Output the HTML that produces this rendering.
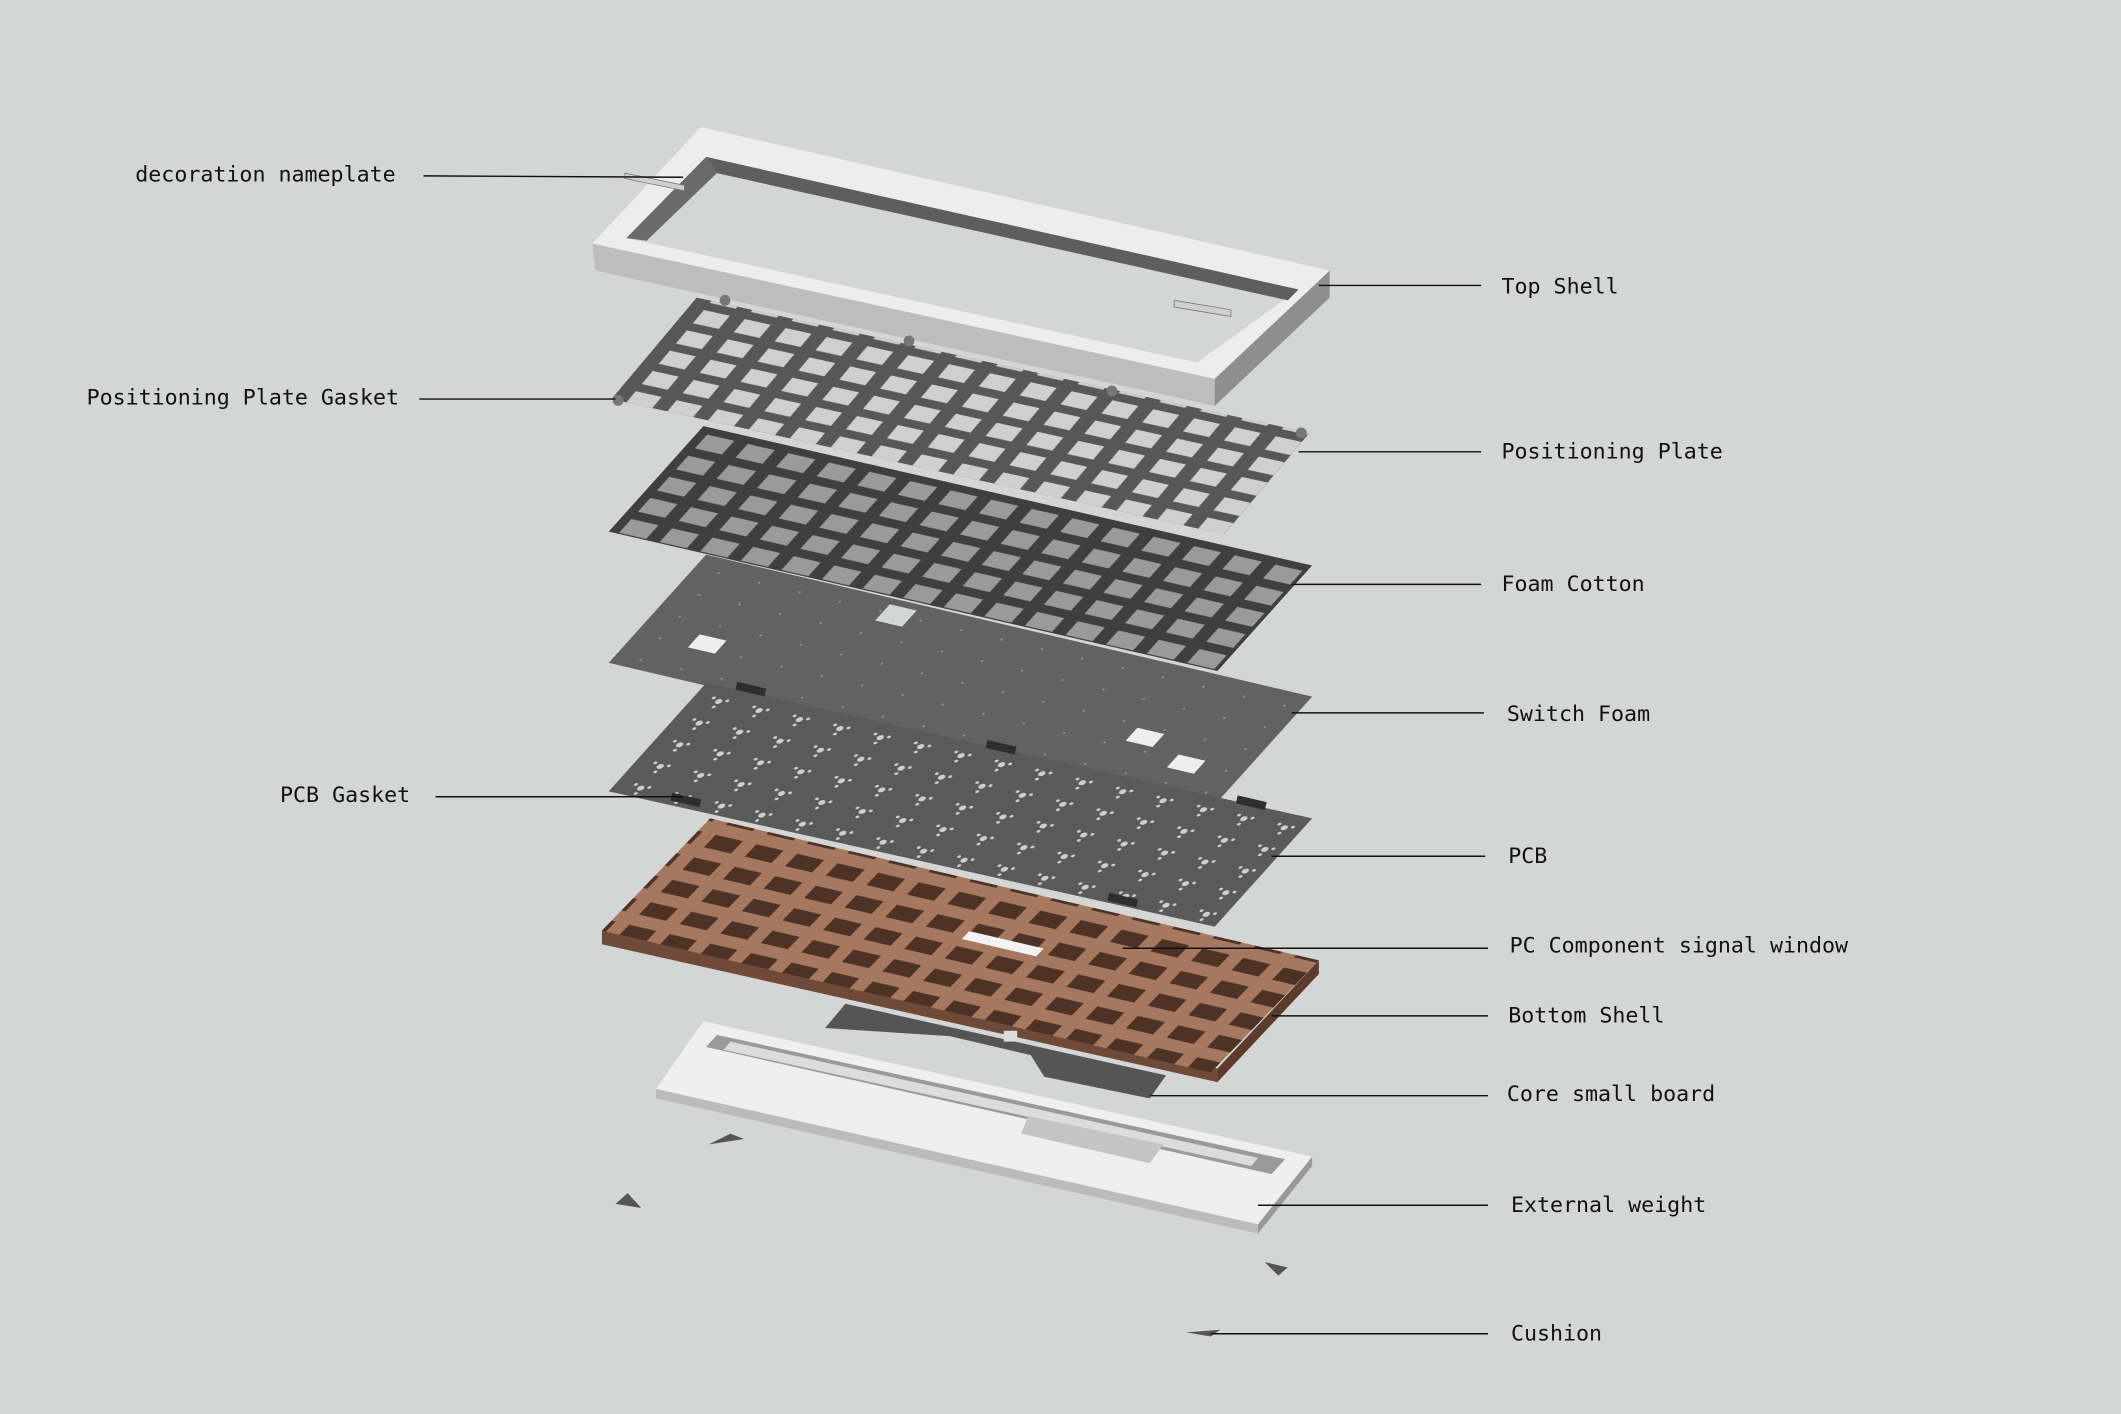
<!DOCTYPE html>
<html><head><meta charset="utf-8"><style>
html,body{margin:0;padding:0;background:#d4d6d5;}
svg{display:block}
text{font-family:"DejaVu Sans Mono","Liberation Mono",monospace;font-size:16px;fill:#111;}
</style></head><body>
<svg width="2121" height="1414" viewBox="0 0 1568 1045.3" xmlns="http://www.w3.org/2000/svg">
<defs>
<pattern id="keysA" width="30" height="20" patternUnits="userSpaceOnUse" x="8" y="6">
<rect x="3" y="3" width="19" height="13" fill="#cfcfcf"/>
</pattern>
<pattern id="keysB" width="30" height="20" patternUnits="userSpaceOnUse" x="4" y="3">
<rect x="3" y="3" width="20" height="13" fill="#9a9a9a"/>
</pattern>
<pattern id="keysC" width="30" height="20" patternUnits="userSpaceOnUse" x="10" y="8">
<rect x="3" y="3" width="20" height="11" fill="#4e3226"/>
</pattern>
<pattern id="dots" width="30" height="20" patternUnits="userSpaceOnUse" x="6" y="4">
<circle cx="12" cy="8" r="2.2" fill="#cfcfcf"/><circle cx="7" cy="6" r="1.2" fill="#cfcfcf"/><circle cx="17" cy="6" r="1.2" fill="#cfcfcf"/><circle cx="12" cy="13" r="1.2" fill="#cfcfcf"/>
</pattern>
<pattern id="fdots" width="30" height="20" patternUnits="userSpaceOnUse" x="6" y="4">
<circle cx="12" cy="8" r="0.8" fill="#999"/>
</pattern>
</defs>

<!-- Top shell -->
<polygon points="438,180 898,280 898,300 440,200" fill="#bdbdbd"/>
<polygon points="898,280 983,200 983,220 898,300" fill="#8e8e8e"/>
<polygon points="518,94 983,200 898,280 438,180" fill="#ededed"/>
<polygon points="522,116 960,214 885,268 463,176" fill="#d4d6d5"/>
<polygon points="522,116 960,214 952,222 530,128" fill="#5e5e5e"/>
<polygon points="522,116 530,128 478,178 463,176" fill="#6a6a6a"/>
<polygon points="868,222 910,229 910,234 868,227" fill="#cfcfcf" stroke="#777" stroke-width="0.6"/>
<polygon points="462,128 506,137 506,141 462,132" fill="#cfcfcf" stroke="#777" stroke-width="0.6"/>

<!-- Positioning plate -->
<g transform="matrix(1.0067,0.2222,-0.63,0.75,515,220)">
<rect x="0" y="0" width="450" height="100" fill="#575757"/>
<rect x="0" y="0" width="450" height="100" fill="url(#keysA)"/>
</g>
<circle cx="457" cy="296" r="4" fill="#777"/><circle cx="962" cy="320" r="4" fill="#777"/><circle cx="536" cy="222" r="4" fill="#777"/><circle cx="822" cy="289" r="4" fill="#777"/><circle cx="672" cy="252" r="4" fill="#777"/>

<!-- Foam cotton -->
<g transform="matrix(1,0.2289,-0.7,0.78,520,315)">
<rect x="0" y="0" width="450" height="100" fill="#3f3f3f"/>
<rect x="0" y="0" width="450" height="100" fill="url(#keysB)"/>
</g>

<!-- Switch foam -->
<g transform="matrix(0.9956,0.2333,-0.72,0.8,522,410)">
<rect x="0" y="0" width="450" height="100" fill="#626262"/>
<rect x="0" y="0" width="450" height="100" fill="url(#fdots)"/>
<rect x="40" y="62" width="20" height="12" fill="#eee"/>
<rect x="360" y="55" width="20" height="12" fill="#eee"/>
<rect x="400" y="68" width="20" height="12" fill="#eee"/>
<rect x="140" y="5" width="20" height="15" fill="#d4d6d5"/>
</g>

<!-- PCB -->
<g transform="matrix(0.9956,0.2222,-0.72,0.8,522,505)">
<rect x="0" y="0" width="450" height="100" fill="#5a5a5a"/>
<rect x="0" y="0" width="450" height="100" fill="url(#dots)"/>
</g>
<rect x="545" y="504" width="22" height="6" fill="#2e2e2e" transform="rotate(13 545 504)"/>
<rect x="730" y="547" width="22" height="6" fill="#2e2e2e" transform="rotate(13 730 547)"/>
<rect x="915" y="588" width="22" height="6" fill="#2e2e2e" transform="rotate(13 915 588)"/>
<rect x="497" y="586" width="22" height="6" fill="#2e2e2e" transform="rotate(13 497 586)"/>
<rect x="820" y="660" width="22" height="6" fill="#2e2e2e" transform="rotate(13 820 660)"/>

<!-- Bottom shell (copper) -->
<polygon points="445,688 900,790 900,800 445,698" fill="#6f4a38"/>
<polygon points="900,790 975,710 975,720 900,800" fill="#5c3b2c"/>
<g transform="matrix(1,0.2333,-0.8,0.83,525,605)">
<rect x="0" y="0" width="450" height="100" fill="#a6785f"/>
<rect x="0" y="0" width="450" height="100" fill="url(#keysC)"/>
<rect x="222" y="38" width="55" height="7" fill="#f2f2f2"/>
</g>

<!-- Core small board -->
<polygon points="625,742 862,795 850,812 772,796 762,780 702,766 610,760" fill="#555"/>
<rect x="742" y="762" width="10" height="8" fill="#ddd"/>

<!-- External weight -->
<polygon points="485,805 930,905 930,912 485,812" fill="#bbb"/>
<polygon points="930,905 970,855 970,862 930,912" fill="#999"/>
<polygon points="520,755 970,855 930,905 485,805" fill="#efefef"/>
<polygon points="530,765 950,857 940,868 522,774" fill="#9a9a9a"/>
<polygon points="540,770 930,856 925,862 535,776" fill="#dcdcdc"/>
<polygon points="760,825 860,846 850,860 755,838" fill="#c4c4c4"/>

<!-- Cushions -->
<polygon points="455,890 464,882 474,893" fill="#555"/>
<polygon points="524,846 540,838 550,842" fill="#555"/>
<polygon points="935,933 952,937 945,943" fill="#555"/>
<polygon points="877,985 902,983 895,988" fill="#555"/>

<!-- Leader lines -->
<g stroke="#111" stroke-width="1.1">
<line x1="313" y1="130" x2="505" y2="131"/>
<line x1="975" y1="211" x2="1095" y2="211"/>
<line x1="310" y1="295" x2="455" y2="295"/>
<line x1="960" y1="334" x2="1095" y2="334"/>
<line x1="955" y1="432" x2="1095" y2="432"/>
<line x1="955" y1="527" x2="1097" y2="527"/>
<line x1="322" y1="589" x2="505" y2="589"/>
<line x1="940" y1="633" x2="1098" y2="633"/>
<line x1="830" y1="701" x2="1100" y2="701"/>
<line x1="940" y1="751" x2="1100" y2="751"/>
<line x1="850" y1="810" x2="1100" y2="810"/>
<line x1="930" y1="891" x2="1100" y2="891"/>
<line x1="895" y1="986" x2="1100" y2="986"/>
</g>

<!-- Labels -->
<text x="100" y="134">decoration nameplate</text>
<text x="1110" y="217">Top Shell</text>
<text x="64" y="299">Positioning Plate Gasket</text>
<text x="1110" y="339">Positioning Plate</text>
<text x="1110" y="437">Foam Cotton</text>
<text x="1114" y="533">Switch Foam</text>
<text x="207" y="593">PCB Gasket</text>
<text x="1115" y="638">PCB</text>
<text x="1116" y="704">PC Component signal window</text>
<text x="1115" y="756">Bottom Shell</text>
<text x="1114" y="814">Core small board</text>
<text x="1117" y="896">External weight</text>
<text x="1117" y="991">Cushion</text>
</svg>
</body></html>
